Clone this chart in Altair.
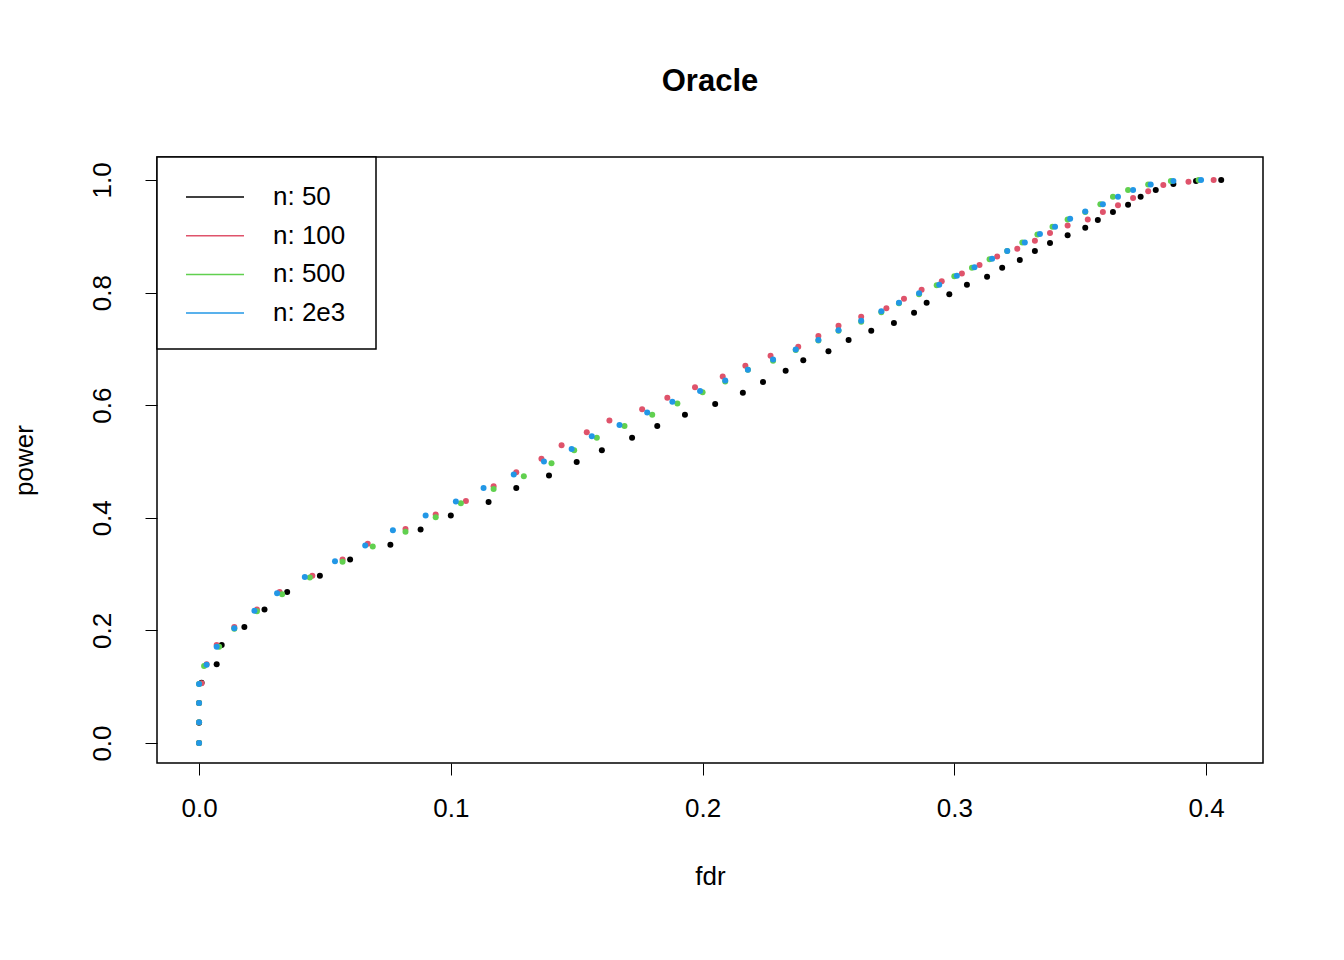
import altair as alt
import pandas as pd

# ── values (fdr, power) per sample size ──────────────────────────────────────
series_names = ["n: 50", "n: 100", "n: 500", "n: 2e3"]
series_colors = ["#000000", "#DF536B", "#61D04F", "#2297E6"]

fdr_50 = [0, 0, 0, .001, .007, .009, .018, .026, .035, .048, .060, .076, .088, .100, .115,
          .126, .139, .150, .160, .172, .182, .193, .205, .216, .224, .233, .240, .250, .258,
          .267, .276, .284, .289, .298, .305, .313, .319, .326, .332, .338, .345, .352, .357,
          .363, .369, .374, .380, .387, .396, .406]
pow_50 = [0, .036, .071, .107, .140, .174, .206, .237, .268, .297, .326, .352, .379, .404, .428,
          .453, .475, .499, .520, .542, .563, .583, .602, .622, .641, .661, .680, .696, .716,
          .732, .746, .764, .782, .797, .814, .828, .844, .858, .874, .888, .902, .915, .929,
          .943, .956, .970, .982, .993, .998, 1.0]

fdr_100 = [0, 0, 0, .001, .003, .007, .014, .023, .032, .045, .057, .067, .082, .094, .106,
           .117, .126, .136, .144, .154, .163, .176, .186, .197, .208, .217, .227, .238, .246,
           .254, .263, .273, .280, .287, .295, .303, .310, .317, .325, .332, .338, .345, .353,
           .359, .365, .371, .377, .383, .393, .403]
pow_100 = [0, .037, .071, .106, .140, .174, .206, .237, .268, .297, .326, .354, .380, .406, .430,
           .456, .481, .505, .529, .552, .573, .593, .613, .632, .651, .670, .688, .704, .723,
           .741, .757, .772, .789, .805, .820, .834, .849, .864, .878, .892, .906, .919, .930,
           .943, .955, .968, .980, .991, .997, 1.0]

fdr_500 = [0, 0, 0, .000, .002, .008, .014, .023, .033, .044, .057, .069, .082, .094, .104,
           .117, .129, .140, .149, .158, .169, .180, .190, .200, .209, .218, .228, .237, .246,
           .254, .263, .271, .278, .286, .293, .300, .307, .314, .321, .327, .333, .339, .345,
           .352, .358, .363, .369, .377, .386, .397]
pow_500 = [0, .037, .071, .105, .137, .171, .203, .234, .264, .294, .322, .349, .375, .401, .426,
           .451, .474, .497, .520, .542, .563, .583, .603, .623, .642, .663, .679, .698, .715,
           .732, .748, .765, .781, .797, .813, .829, .844, .859, .874, .889, .903, .917, .930,
           .943, .957, .970, .982, .992, .998, 1.0]

fdr_2e3 = [0, 0, 0, .000, .003, .007, .014, .022, .031, .042, .054, .066, .077, .090, .102,
           .113, .125, .137, .148, .156, .167, .178, .188, .199, .209, .218, .228, .237, .246,
           .254, .263, .271, .278, .286, .294, .301, .308, .315, .321, .328, .334, .340, .346,
           .352, .359, .365, .371, .378, .387, .398]
pow_2e3 = [0, .037, .071, .105, .139, .171, .204, .235, .266, .295, .323, .351, .378, .404, .429,
           .453, .477, .500, .522, .545, .565, .587, .606, .625, .644, .663, .681, .699, .716,
           .733, .750, .767, .782, .799, .814, .830, .845, .860, .874, .889, .904, .917, .931,
           .944, .957, .970, .982, .992, .998, 1.0]

x_ticks = [0.0, 0.1, 0.2, 0.3, 0.4]
y_ticks = [0.0, 0.2, 0.4, 0.6, 0.8, 1.0]

rows = []
for name, fx, py in zip(series_names,
                        [fdr_50, fdr_100, fdr_500, fdr_2e3],
                        [pow_50, pow_100, pow_500, pow_2e3]):
    for a, b in zip(fx, py):
        rows.append({"series": name, "fdr": a, "power": b})
df = pd.DataFrame(rows)

FONT = "Liberation Sans"

points = (
    alt.Chart(df)
    .mark_circle(size=36, opacity=1)
    .encode(
        x=alt.X("fdr:Q",
                scale=alt.Scale(domain=[-0.0167, 0.4226], nice=False, zero=False),
                axis=alt.Axis(values=x_ticks, format=".1f", grid=False, domain=False,
                              tickSize=12, tickColor="black", labelFontSize=26,
                              labelColor="black", labelPadding=20, titleFontSize=26,
                              titleFontWeight="normal", titleColor="black", titlePadding=42,
                              labelFont=FONT, titleFont=FONT),
                title="fdr"),
        y=alt.Y("power:Q",
                scale=alt.Scale(domain=[-0.0355, 1.0408], nice=False, zero=False),
                axis=alt.Axis(values=y_ticks, format=".1f", grid=False, domain=False,
                              tickSize=12, tickColor="black", labelFontSize=26,
                              labelColor="black", labelAngle=270, labelAlign="center",
                              labelBaseline="bottom", labelPadding=30, titleFontSize=26,
                              titleFontWeight="normal", titleColor="black", titlePadding=52,
                              labelFont=FONT, titleFont=FONT),
                title="power"),
        color=alt.Color("series:N",
                        scale=alt.Scale(domain=series_names, range=series_colors),
                        legend=None),
    )
)

# ── hand-drawn R style legend box in the top-left corner ─────────────────────
legend_layers = [
    alt.Chart(pd.DataFrame({"k": [0]})).mark_rect(fill="white", stroke="black", strokeWidth=1.5)
    .encode(x=alt.value(0), x2=alt.value(219), y=alt.value(0), y2=alt.value(192))
]
for i, (name, col) in enumerate(zip(series_names, series_colors)):
    yy = 40 + i * 38.7
    legend_layers.append(
        alt.Chart(pd.DataFrame({"k": [0]})).mark_rule(color=col, strokeWidth=1.5)
        .encode(x=alt.value(29), x2=alt.value(87), y=alt.value(yy))
    )
    legend_layers.append(
        alt.Chart(pd.DataFrame({"k": [0]}))
        .mark_text(align="left", baseline="middle", fontSize=26, font=FONT, color="black")
        .encode(x=alt.value(116), y=alt.value(yy), text=alt.value(name))
    )

chart = (
    alt.layer(points, *legend_layers)
    .properties(
        width=1106,
        height=606,
        autosize=alt.AutoSizeParams(type="none"),
        padding={"left": 149, "top": 149, "right": 20, "bottom": 180},
        title=alt.TitleParams("Oracle", fontSize=31, font=FONT, fontWeight="bold",
                              color="black", anchor="middle", offset=58),
    )
    .configure_view(stroke="black", strokeWidth=1.5)
)

chart.save("out.html", embed_options={"renderer": "svg", "actions": False})
